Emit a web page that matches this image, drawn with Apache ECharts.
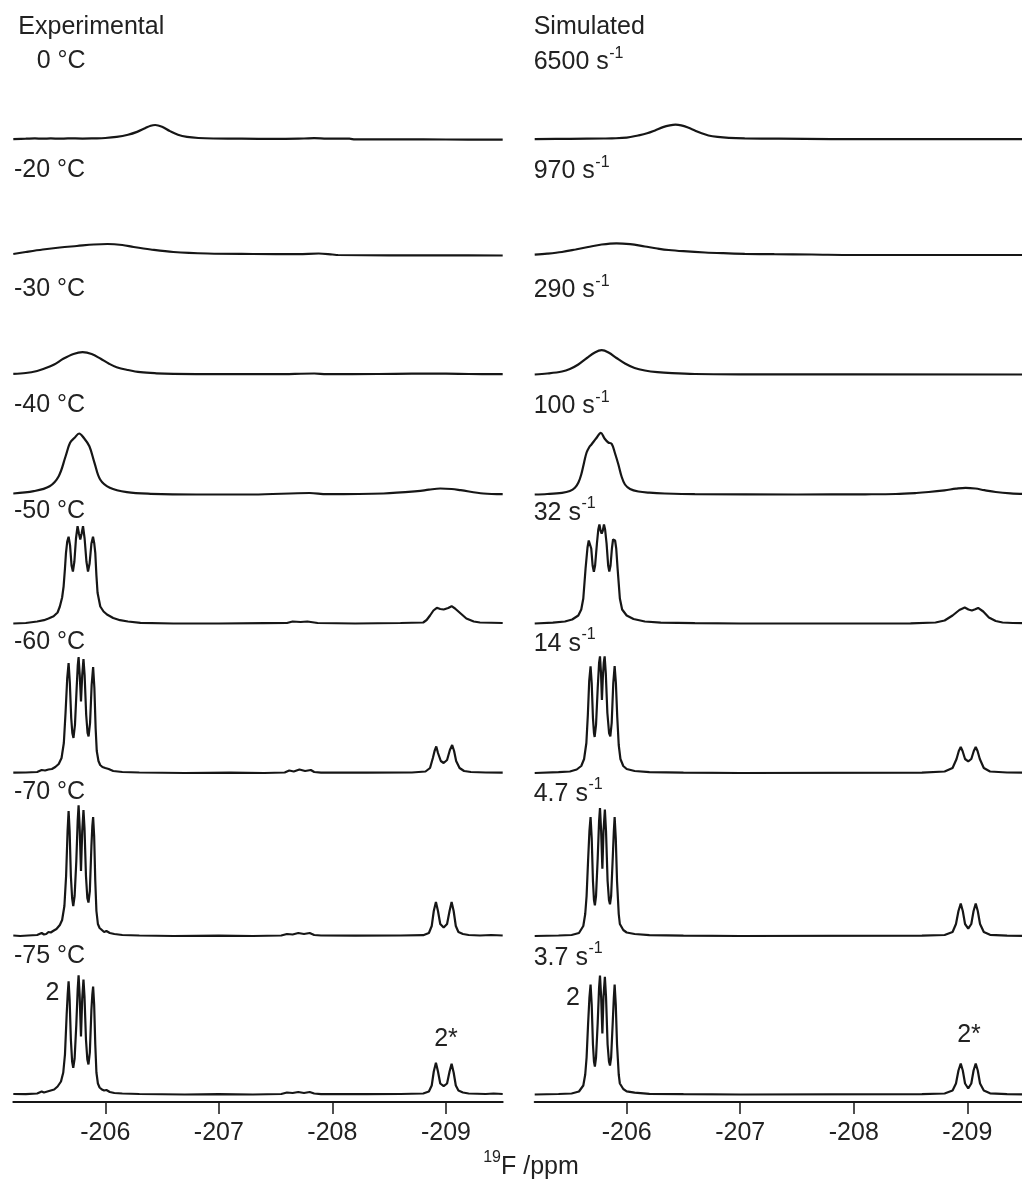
<!DOCTYPE html>
<html>
<head>
<meta charset="utf-8">
<script src="https://cdn.jsdelivr.net/npm/echarts@6/dist/echarts.min.js"></script>
<style>
  html, body { margin: 0; padding: 0; overflow: hidden; background: #fff; }
  #chart { width: 1030px; height: 1183px; }
</style>
</head>
<body>
<div id="chart"></div>
<script>
// x axis (ppm) and ticks
const ppmRange = [-209.5, -205.19];
const ppmTicks = [-206, -207, -208, -209];

// panel labels
const expLabels = ['0 °C', '-20 °C', '-30 °C', '-40 °C', '-50 °C', '-60 °C', '-70 °C', '-75 °C'];
const simRates = ['6500', '970', '290', '100', '32', '14', '4.7', '3.7'];

// experimental spectra: [ppm, intensity]
const exp0C = [[-205.19,0],[-205.3,0.5],[-205.38,1],[-205.45,0.5],[-205.52,1],[-205.6,0.5],[-205.67,1],[-205.8,0.7],[-205.9,1],[-206.0,1.5],[-206.1,3],[-206.2,6],[-206.28,10],[-206.35,15],[-206.4,18.5],[-206.44,19.5],[-206.5,17],[-206.57,11],[-206.64,6],[-206.72,3],[-206.82,1.5],[-206.95,0.8],[-207.2,0.5],[-207.5,0.3],[-207.75,0.8],[-207.84,1.2],[-207.95,0.6],[-208.15,0.5],[-208.2,-0.5],[-208.6,-0.5],[-209.0,-0.6],[-209.5,-0.8]];
const exp20C = [[-205.19,1],[-205.3,3],[-205.45,5.5],[-205.6,7.5],[-205.75,9],[-205.9,10.5],[-206.02,11],[-206.15,10],[-206.25,8],[-206.4,5.5],[-206.6,3],[-206.9,1.5],[-207.3,1],[-207.7,0.8],[-207.88,1.5],[-208.0,0.5],[-208.05,0],[-208.5,-0.3],[-209.0,-0.3],[-209.5,-0.5]];
const exp30C = [[-205.19,0.7],[-205.3,1.5],[-205.4,3.5],[-205.46,5.7],[-205.55,10],[-205.63,15.7],[-205.72,20.5],[-205.8,22.3],[-205.88,20.5],[-205.96,15.7],[-206.03,11],[-206.1,7.3],[-206.2,4.5],[-206.31,2.3],[-206.45,1.2],[-206.6,0.7],[-207.0,0.3],[-207.5,0.3],[-207.84,1],[-207.95,0.3],[-208.4,0.5],[-208.7,0.8],[-209.0,0.8],[-209.2,0.5],[-209.5,0.3]];
const exp40C = [[-205.19,1],[-205.37,3.3],[-205.51,8.3],[-205.59,18.3],[-205.65,38],[-205.69,51.7],[-205.73,56.7],[-205.77,61],[-205.81,56.7],[-205.86,48.3],[-205.905,31.7],[-205.955,15],[-206.04,6.7],[-206.19,2.3],[-206.4,0.7],[-206.8,0],[-207.3,0],[-207.8,1.5],[-207.95,0.3],[-208.45,1],[-208.75,3.3],[-208.85,4.8],[-208.95,6],[-209.05,5.5],[-209.13,4.3],[-209.33,1],[-209.5,0.3]];
const exp50C = [[-205.19,0],[-205.3,0.5],[-205.4,2],[-205.46,3.3],[-205.5,5],[-205.545,7.3],[-205.58,11],[-205.6,17],[-205.62,26],[-205.633,37],[-205.645,55],[-205.654,70.7],[-205.665,82],[-205.677,86.7],[-205.69,78],[-205.703,58],[-205.715,52],[-205.728,62],[-205.742,85],[-205.756,97.3],[-205.768,90],[-205.78,84],[-205.792,90],[-205.804,97.3],[-205.818,85],[-205.834,62],[-205.848,52],[-205.862,60],[-205.878,80],[-205.892,86.7],[-205.903,80],[-205.912,70.7],[-205.922,48],[-205.932,30.7],[-205.956,17],[-205.985,12],[-206.015,9],[-206.07,5.5],[-206.13,3.3],[-206.2,2],[-206.31,0.7],[-206.6,0],[-207.0,0],[-207.4,0.3],[-207.6,0.5],[-207.65,2],[-207.72,1.5],[-207.78,2],[-207.87,0.5],[-208.2,0],[-208.6,0.5],[-208.8,1],[-208.83,3.5],[-208.86,8],[-208.89,13],[-208.92,15.7],[-208.95,14.5],[-208.98,14],[-209.02,15.5],[-209.05,17.3],[-209.08,15],[-209.13,10],[-209.18,5],[-209.245,2],[-209.3,1],[-209.5,0.5]];
const exp60C = [[-205.19,0.3],[-205.3,0.5],[-205.4,1],[-205.44,3],[-205.47,2.5],[-205.5,3.5],[-205.53,4],[-205.56,6],[-205.59,9],[-205.615,15],[-205.635,30],[-205.65,60],[-205.665,95],[-205.677,110],[-205.688,90],[-205.7,55],[-205.71,40],[-205.72,35],[-205.733,48],[-205.748,85],[-205.758,108],[-205.765,116],[-205.775,98],[-205.786,71.6],[-205.797,98],[-205.808,114],[-205.818,98],[-205.832,58],[-205.844,40],[-205.853,36.6],[-205.866,50],[-205.88,88],[-205.893,106],[-205.904,85],[-205.915,45],[-205.925,22],[-205.94,12],[-205.955,8],[-205.975,6],[-206.0,5],[-206.03,4],[-206.07,2],[-206.15,1],[-206.3,0.5],[-206.7,0],[-207.1,0.3],[-207.4,0],[-207.58,0.5],[-207.62,2.5],[-207.66,1.5],[-207.71,3.5],[-207.76,2],[-207.81,3],[-207.84,1],[-207.9,0.3],[-208.3,0.3],[-208.7,0.5],[-208.82,1.5],[-208.86,5],[-208.885,15],[-208.9,22],[-208.915,26.6],[-208.93,20],[-208.955,12],[-208.98,10],[-209.01,13],[-209.035,23],[-209.055,28],[-209.072,22],[-209.09,12],[-209.12,5],[-209.16,2],[-209.22,1],[-209.35,0.5],[-209.5,0.3]];
const exp70C = [[-205.19,0.5],[-205.25,0],[-205.32,0.5],[-205.4,1],[-205.44,3],[-205.46,1.5],[-205.48,2],[-205.5,4],[-205.52,3.5],[-205.54,5],[-205.57,7],[-205.6,11],[-205.62,16],[-205.64,30],[-205.655,60],[-205.668,105],[-205.677,125],[-205.686,105],[-205.697,60],[-205.708,38],[-205.718,30],[-205.73,40],[-205.745,75],[-205.757,115],[-205.765,130.7],[-205.774,110],[-205.786,65],[-205.797,105],[-205.808,126],[-205.817,108],[-205.83,60],[-205.842,38],[-205.852,33.4],[-205.864,45],[-205.878,90],[-205.886,110],[-205.893,119],[-205.902,100],[-205.912,55],[-205.922,25],[-205.935,12],[-205.95,8],[-205.97,6],[-205.99,4],[-206.01,5],[-206.04,3],[-206.08,2],[-206.15,1],[-206.3,0.5],[-206.6,0],[-207.0,0.3],[-207.3,0],[-207.55,0.5],[-207.6,2],[-207.65,1.5],[-207.7,3],[-207.75,2],[-207.8,3],[-207.84,1],[-207.9,0.5],[-208.2,0.3],[-208.6,0.5],[-208.8,0.8],[-208.85,3],[-208.875,10],[-208.893,25],[-208.912,34],[-208.93,25],[-208.95,12],[-208.98,8.4],[-209.01,12],[-209.032,25],[-209.05,34],[-209.068,25],[-209.087,10],[-209.11,4],[-209.15,2],[-209.2,1],[-209.3,0.5],[-209.4,1],[-209.5,0.5]];
const exp75C = [[-205.19,0.5],[-205.3,0.3],[-205.4,1],[-205.44,3],[-205.46,2],[-205.49,3],[-205.52,4],[-205.55,5],[-205.58,8],[-205.61,13],[-205.63,22],[-205.645,40],[-205.66,80],[-205.669,100],[-205.677,113.3],[-205.686,95],[-205.697,55],[-205.708,33],[-205.718,26.7],[-205.73,36],[-205.745,70],[-205.757,105],[-205.765,119.3],[-205.774,100],[-205.786,58],[-205.797,96],[-205.808,115],[-205.817,98],[-205.83,55],[-205.842,35],[-205.852,30],[-205.864,42],[-205.878,85],[-205.886,100],[-205.893,108],[-205.902,90],[-205.912,50],[-205.922,22],[-205.935,11],[-205.95,7],[-205.97,5],[-205.99,4],[-206.01,4.5],[-206.04,2.5],[-206.08,1.5],[-206.15,1],[-206.3,0.5],[-206.7,0],[-207.0,0.3],[-207.3,0],[-207.55,0.5],[-207.6,2],[-207.65,1.5],[-207.7,2.5],[-207.75,1.5],[-207.8,2.5],[-207.84,1],[-207.9,0.3],[-208.3,0.3],[-208.6,0.5],[-208.8,1],[-208.85,3],[-208.875,9],[-208.893,23],[-208.912,31.7],[-208.93,23],[-208.95,11],[-208.98,8.3],[-209.01,11],[-209.032,23],[-209.05,30.7],[-209.068,22],[-209.087,9],[-209.11,4],[-209.15,2],[-209.2,1],[-209.35,0.5],[-209.42,1],[-209.5,0.5]];

// simulated spectra: [ppm, intensity]
const sim6500 = [[-205.19,0],[-205.5,0.3],[-205.8,0.8],[-205.87,1],[-206.0,2],[-206.1,5],[-206.18,8],[-206.25,12],[-206.32,16.5],[-206.38,19],[-206.43,20],[-206.48,19],[-206.54,16],[-206.6,12],[-206.66,8],[-206.72,5],[-206.8,3],[-206.9,1.7],[-207.04,1],[-207.34,0.5],[-207.8,0],[-209.5,0]];
const sim970 = [[-205.19,0.3],[-205.3,1.3],[-205.43,3],[-205.55,5.5],[-205.66,8],[-205.78,10.5],[-205.91,11.7],[-206.03,10.8],[-206.16,8.5],[-206.27,6.5],[-206.37,5],[-206.5,3.8],[-206.69,2.5],[-206.85,1.8],[-207.04,1.2],[-207.3,0.8],[-207.63,0.5],[-208.0,0],[-209.5,0]];
const sim290 = [[-205.19,0],[-205.3,1],[-205.43,3],[-205.5,5.5],[-205.574,10],[-205.65,16.5],[-205.72,22],[-205.78,24.3],[-205.84,22],[-205.91,16.5],[-205.985,11],[-206.07,6.5],[-206.16,4],[-206.27,2.3],[-206.4,1.3],[-206.6,0.5],[-207.0,0.2],[-209.5,0]];
const sim100 = [[-205.19,0],[-205.3,0.5],[-205.43,1.7],[-205.5,3.5],[-205.544,6.7],[-205.575,12],[-205.6,20],[-205.625,32],[-205.647,42],[-205.67,47.3],[-205.69,50],[-205.73,56],[-205.773,61.7],[-205.805,56],[-205.838,52],[-205.868,50.7],[-205.895,42],[-205.927,30],[-205.955,18],[-205.985,10],[-206.03,5.5],[-206.103,3],[-206.2,1.8],[-206.335,1],[-206.6,0.3],[-207.5,0],[-208.1,0.2],[-208.37,0.5],[-208.55,1.5],[-208.66,2.5],[-208.8,4.2],[-208.9,5.8],[-208.985,6.7],[-209.07,6],[-209.15,4.3],[-209.25,2.5],[-209.38,1.2],[-209.5,0.7]];
const sim32 = [[-205.19,0],[-205.35,0.8],[-205.456,2],[-205.52,4],[-205.574,8],[-205.6,14],[-205.618,25],[-205.638,55],[-205.655,76],[-205.666,83],[-205.676,85],[-205.688,75],[-205.7,58],[-205.711,51.6],[-205.722,58],[-205.738,80],[-205.75,94],[-205.76,99],[-205.77,93],[-205.78,90],[-205.79,93],[-205.8,99],[-205.81,94],[-205.823,80],[-205.837,58],[-205.847,52],[-205.858,58],[-205.87,75],[-205.88,84],[-205.888,86],[-205.898,83],[-205.908,75],[-205.92,55],[-205.94,25],[-205.96,14],[-206.0,8],[-206.06,4.5],[-206.16,2],[-206.3,0.8],[-206.6,0.3],[-207.0,0],[-208.5,0.2],[-208.72,1],[-208.8,3],[-208.87,8],[-208.93,13.5],[-208.977,16],[-209.01,14],[-209.04,13],[-209.07,14.2],[-209.095,15.6],[-209.14,12],[-209.19,6],[-209.25,2.5],[-209.31,1],[-209.4,0.5],[-209.5,0.3]];
const sim14 = [[-205.19,0],[-205.4,0.8],[-205.5,1.5],[-205.56,3.5],[-205.6,7],[-205.625,14],[-205.645,30],[-205.658,58],[-205.67,92],[-205.682,106.6],[-205.692,90],[-205.703,55],[-205.712,40],[-205.718,36],[-205.73,48],[-205.745,85],[-205.757,110],[-205.765,116.6],[-205.774,100],[-205.782,73],[-205.79,95],[-205.798,110],[-205.806,116.6],[-205.816,100],[-205.83,60],[-205.845,40],[-205.856,36.6],[-205.868,50],[-205.882,90],[-205.894,107],[-205.905,90],[-205.917,56],[-205.93,28],[-205.945,14],[-205.97,7],[-206.0,4],[-206.07,2],[-206.2,0.8],[-206.5,0.3],[-207.0,0],[-208.6,0.3],[-208.8,1.5],[-208.87,5],[-208.905,14],[-208.925,22],[-208.942,26],[-208.958,22],[-208.98,14],[-209.008,11.6],[-209.035,14],[-209.057,22],[-209.074,26],[-209.09,22],[-209.11,14],[-209.145,5],[-209.2,1.5],[-209.35,0.5],[-209.5,0.3]];
const sim4p7 = [[-205.19,0],[-205.4,0.5],[-205.515,1],[-205.58,3],[-205.618,10],[-205.635,22],[-205.647,40],[-205.66,75],[-205.672,105],[-205.682,119],[-205.692,98],[-205.703,55],[-205.712,36],[-205.72,30.7],[-205.73,40],[-205.745,78],[-205.757,115],[-205.765,128],[-205.775,105],[-205.786,67.4],[-205.796,105],[-205.808,126.4],[-205.818,105],[-205.832,55],[-205.844,36],[-205.853,31.7],[-205.863,40],[-205.878,80],[-205.887,105],[-205.894,119],[-205.904,98],[-205.915,55],[-205.93,22],[-205.94,12],[-205.97,6],[-206.0,3.5],[-206.07,2],[-206.2,0.8],[-206.5,0.3],[-207.0,0],[-208.6,0.3],[-208.8,1],[-208.87,4],[-208.9,12],[-208.922,25],[-208.942,32.4],[-208.96,25],[-208.98,12],[-209.008,7.4],[-209.035,12],[-209.055,25],[-209.074,32.4],[-209.092,25],[-209.112,12],[-209.145,4],[-209.2,1.2],[-209.35,0.4],[-209.5,0.2]];
const sim3p7 = [[-205.19,0],[-205.4,0.5],[-205.515,1],[-205.58,3],[-205.618,9],[-205.635,20],[-205.647,37],[-205.66,70],[-205.672,97],[-205.682,110],[-205.692,90],[-205.703,50],[-205.712,33],[-205.72,28],[-205.73,37],[-205.745,72],[-205.757,107],[-205.765,119],[-205.775,98],[-205.786,61],[-205.796,98],[-205.808,117.6],[-205.818,98],[-205.832,50],[-205.844,33],[-205.853,29],[-205.863,37],[-205.878,74],[-205.887,97],[-205.894,110],[-205.904,90],[-205.915,50],[-205.93,20],[-205.94,11],[-205.97,5.5],[-206.0,3.2],[-206.07,1.8],[-206.2,0.7],[-206.5,0.3],[-207.0,0],[-208.6,0.3],[-208.8,1],[-208.87,4],[-208.9,11],[-208.922,24],[-208.942,31],[-208.96,24],[-208.98,11],[-209.008,6],[-209.035,11],[-209.055,24],[-209.074,31],[-209.092,24],[-209.112,11],[-209.145,4],[-209.2,1.2],[-209.35,0.4],[-209.5,0.2]];

const expTraces = [exp0C, exp20C, exp30C, exp40C, exp50C, exp60C, exp70C, exp75C];
const simTraces = [sim6500, sim970, sim290, sim100, sim32, sim14, sim4p7, sim3p7];

// layout
const baselines = [137, 255, 374.5, 494.5, 623.5, 773, 936, 1094.5];
const labelY = [61, 170, 289, 405, 511.5, 642.5, 792.5, 956.5];
const panelLeft = [13.3, 534.7];
const panelWidth = 489.4;
const FONT = '"Liberation Sans", Arial, Helvetica, sans-serif';
const INK = '#161616';

const measureCtx = document.createElement('canvas').getContext('2d');
function textWidth(str, size) {
  measureCtx.font = size + 'px ' + FONT;
  return measureCtx.measureText(str).width;
}

function label(str, x, y, size, align) {
  return {
    type: 'text',
    silent: true,
    style: {
      text: str, x: x, y: y,
      fontSize: size || 25, fontFamily: FONT, fill: '#222',
      align: align || 'left', verticalAlign: 'middle',
      textAlign: align || 'left', textVerticalAlign: 'middle'
    }
  };
}

// text with a raised "-1" superscript
function supLabel(base, sup, x, y) {
  const w = textWidth(base, 25);
  return [label(base, x, y, 25), label(sup, x + w + 0.5, y - 9, 16)];
}

const grids = [], xAxes = [], yAxes = [], series = [];
[expTraces, simTraces].forEach(function (traces, p) {
  traces.forEach(function (data, k) {
    const idx = grids.length;
    const bottom = k === traces.length - 1;
    grids.push({ left: panelLeft[p], width: panelWidth, top: baselines[k] - 192.5, height: 200 });
    xAxes.push({
      type: 'value', gridIndex: idx, inverse: true,
      min: ppmRange[0], max: ppmRange[1],
      show: bottom,
      splitLine: { show: false },
      axisLine: { show: bottom, onZero: false, lineStyle: { color: INK, width: 2 } },
      axisTick: { show: bottom, inside: false, length: 12, customValues: ppmTicks, lineStyle: { color: INK, width: 1.5 } },
      axisLabel: { show: bottom, customValues: ppmTicks, margin: 19, fontSize: 25, fontFamily: FONT, color: '#222', formatter: function (v) { return String(v); } }
    });
    yAxes.push({ type: 'value', gridIndex: idx, min: -7.5, max: 192.5, show: false, splitLine: { show: false } });
    series.push({
      type: 'line', xAxisIndex: idx, yAxisIndex: idx, data: data,
      showSymbol: false, symbol: 'none', clip: false, silent: true,
      smooth: k < 4 ? 0.35 : false,
      lineStyle: { color: INK, width: 2.2 }
    });
  });
});

const graphics = [];
graphics.push(label('Experimental', 18.3, 27));
graphics.push(label('Simulated', 533.7, 27));
expLabels.forEach(function (t, k) {
  graphics.push(label(t, k === 0 ? 36.7 : 14, labelY[k]));
});
simRates.forEach(function (r, k) {
  supLabel(r + ' s', '-1', 533.7, labelY[k] + 1.5).forEach(function (g) { graphics.push(g); });
});
graphics.push(label('2', 52.5, 993, 25, 'center'));
graphics.push(label('2*', 446, 1039, 25, 'center'));
graphics.push(label('2', 573, 998, 25, 'center'));
graphics.push(label('2*', 969, 1035, 25, 'center'));

// axis title: 19F /ppm
const w19 = textWidth('19', 16), wF = textWidth('F /ppm', 25);
const titleX = 531 - (w19 + wF) / 2;
graphics.push(label('19', titleX, 1158, 16));
graphics.push(label('F /ppm', titleX + w19, 1167, 25));

const chart = echarts.init(document.getElementById('chart'), null, { renderer: 'canvas' });
chart.setOption({
  animation: false,
  backgroundColor: '#fff',
  grid: grids,
  xAxis: xAxes,
  yAxis: yAxes,
  series: series,
  graphic: graphics
});
</script>
</body>
</html>
